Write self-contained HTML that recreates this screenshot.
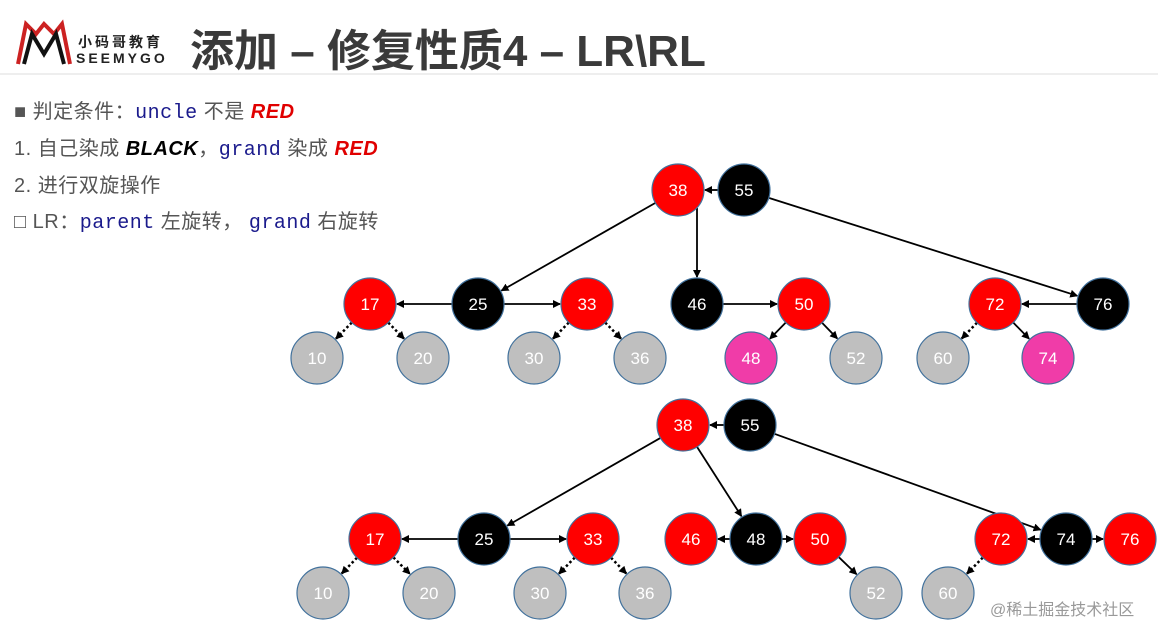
<!DOCTYPE html>
<html><head><meta charset="utf-8"><style>
body{margin:0;width:1158px;height:624px;background:#fff;overflow:hidden;position:relative;font-family:"Liberation Sans","Noto Sans CJK SC",sans-serif}
.t{position:absolute;white-space:nowrap}
.m{font-family:"Liberation Mono","Noto Sans CJK SC",monospace;color:#1a1a8c;font-size:20px}
.r{color:#e00000;font-weight:bold;font-style:italic}
.l{font-size:20px;color:#555;left:14px;letter-spacing:0.5px}
</style></head><body>
<svg width="1158" height="624" style="position:absolute;left:0;top:0" id="s">
<defs><marker id="a" markerWidth="8" markerHeight="8" refX="7" refY="4" orient="auto" markerUnits="userSpaceOnUse"><path d="M0,0 L8,4 L0,8 z" fill="#000"/></marker></defs>
<line x1="0" y1="74" x2="1158" y2="74" stroke="#eee" stroke-width="2"/>
<path d="M18,64 L26,24 L36,34 L44,24 L54,34 L62,24 L70,64" fill="none" stroke="#c22" stroke-width="4"/>
<path d="M24,64 L32,34 L44,54 L56,34 L64,64" fill="none" stroke="#111" stroke-width="4"/>
</svg>
<div class="t" style="left:78px;top:32px;font-size:14px;font-weight:bold;letter-spacing:3px;color:#222">小码哥教育</div>
<div class="t" style="left:76px;top:50px;font-size:14px;font-weight:bold;letter-spacing:3px;color:#222">SEEMYGO</div>
<div class="t" style="left:190px;top:15px;font-size:44px;font-weight:bold;color:#3a3a3a">添加 – 修复性质4 – LR\RL</div>
<div class="t l" style="top:95px">■ 判定条件：<span class="m">uncle</span> 不是 <span class="r">RED</span></div>
<div class="t l" style="top:132px">1.  自己染成 <b><i style="color:#000">BLACK</i></b>，<span class="m">grand</span> 染成 <span class="r">RED</span></div>
<div class="t l" style="top:169px">2.  进行双旋操作</div>
<div class="t l" style="top:205px">□ LR：<span class="m">parent</span> 左旋转， <span class="m">grand</span> 右旋转</div>
<div class="t" style="left:990px;top:596px;font-size:16px;color:#999">@稀土掘金技术社区</div>
<script>
var R=26,s=document.getElementById('s'),ns='http://www.w3.org/2000/svg';
var C={r:'#f00',b:'#000',g:'#bfbfbf',p:'#f03ca8'};
var N={};
function n(k,x,y,c,t){N[k]=[x,y,c,t];}
n('a38',678,190,'r','38');n('a55',744,190,'b','55');
n('a17',370,304,'r','17');n('a25',478,304,'b','25');n('a33',587,304,'r','33');n('a46',697,304,'b','46');n('a50',804,304,'r','50');n('a72',995,304,'r','72');n('a76',1103,304,'b','76');
n('a10',317,358,'g','10');n('a20',423,358,'g','20');n('a30',534,358,'g','30');n('a36',640,358,'g','36');n('a48',751,358,'p','48');n('a52',856,358,'g','52');n('a60',943,358,'g','60');n('a74',1048,358,'p','74');
n('b38',683,425,'r','38');n('b55',750,425,'b','55');
n('b17',375,539,'r','17');n('b25',484,539,'b','25');n('b33',593,539,'r','33');n('b46',691,539,'r','46');n('b48',756,539,'b','48');n('b50',820,539,'r','50');n('b72',1001,539,'r','72');n('b74',1066,539,'b','74');n('b76',1130,539,'r','76');
n('b10',323,593,'g','10');n('b20',429,593,'g','20');n('b30',540,593,'g','30');n('b36',645,593,'g','36');n('b52',876,593,'g','52');n('b60',948,593,'g','60');
var E=[['a55','a38'],['a38','a25'],['a55','a76'],['a25','a17'],['a25','a33'],['a46','a50'],['a76','a72'],['a50','a48'],['a50','a52'],['a72','a74'],
['a17','a10',1],['a17','a20',1],['a33','a30',1],['a33','a36',1],['a72','a60',1],
['b55','b38'],['b38','b25'],['b38','b48'],['b55','b74'],['b25','b17'],['b25','b33'],['b48','b46'],['b48','b50'],['b74','b72'],['b74','b76'],['b50','b52'],
['b17','b10',1],['b17','b20',1],['b33','b30',1],['b33','b36',1],['b72','b60',1]];
function L(x1,y1,x2,y2,d){var l=document.createElementNS(ns,'line');l.setAttribute('x1',x1);l.setAttribute('y1',y1);l.setAttribute('x2',x2);l.setAttribute('y2',y2);
l.setAttribute('stroke','#000');l.setAttribute('stroke-width',d?2.5:1.8);if(d)l.setAttribute('stroke-dasharray','2.5,2.5');l.setAttribute('marker-end','url(#a)');s.appendChild(l);}
E.forEach(function(e){var A=N[e[0]],B=N[e[1]],dx=B[0]-A[0],dy=B[1]-A[1],d=Math.hypot(dx,dy);
L(A[0]+dx/d*R,A[1]+dy/d*R,B[0]-dx/d*(R+1),B[1]-dy/d*(R+1),e[2]);});
L(697,208,697,277);
for(var k in N){var v=N[k];var c=document.createElementNS(ns,'circle');c.setAttribute('cx',v[0]);c.setAttribute('cy',v[1]);c.setAttribute('r',R);c.setAttribute('fill',C[v[2]]);c.setAttribute('stroke','#41719c');c.setAttribute('stroke-width',1.2);s.appendChild(c);
var t=document.createElementNS(ns,'text');t.setAttribute('x',v[0]);t.setAttribute('y',v[1]+6);t.setAttribute('text-anchor','middle');t.setAttribute('font-size','17');t.setAttribute('fill','#fff');t.setAttribute('font-family','Liberation Sans,sans-serif');t.textContent=v[3];s.appendChild(t);}
</script>
</body></html>
